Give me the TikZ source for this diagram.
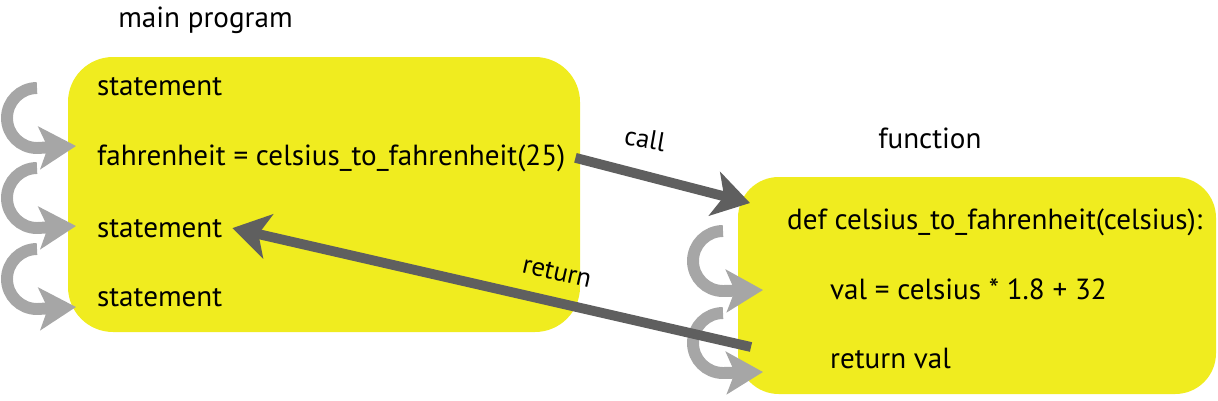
\documentclass[tikz,border=0pt]{standalone}
\usepackage{fontspec}
\setmainfont{PT Sans}
\usetikzlibrary{arrows.meta,positioning}
\definecolor{boxyellow}{RGB}{240,236,31}
\definecolor{calldark}{RGB}{95,95,95}
\definecolor{flowgray}{RGB}{166,166,166}
\tikzset{
  mainbox/.style={fill=boxyellow, rounded corners=32pt},
  funcbox/.style={fill=boxyellow, rounded corners=29pt},
  codeline/.style={anchor=base west, inner xsep=7pt, inner ysep=2pt, font=\fontsize{20.7}{25}\selectfont},
  headline/.style={anchor=base west, inner sep=0pt, font=\fontsize{20.7}{25}\selectfont},
  arrowlabel/.style={inner sep=1pt, font=\fontsize{19}{23}\selectfont},
  callarrow/.style={-{Stealth[length=26pt, width=32pt, inset=7pt]}, line width=7pt, draw=calldark},
  flowarrow/.style={-{Stealth[length=26pt, width=30pt, inset=6pt]}, line width=8.5pt, draw=flowgray}
}
\begin{document}
\begin{tikzpicture}[x=0.025cm, y=-0.025cm]
\useasboundingbox (0,0) rectangle (1218,401);

% boxes
\fill[mainbox] (68,57) rectangle (580,332);
\fill[funcbox] (738,177) rectangle (1216,394);

% headings
\node[headline] (mainhead) at (118,27) {main program};
\node[headline] (funchead) at (878,148) {function};

% main program lines
\node[codeline] (stmtA) at (87,95) {statement};
\node[codeline] (fahr) at (87,165) {fahrenheit = celsius\_to\_fahrenheit(25)};
\node[codeline] (stmtB) at (87,237) {statement};
\node[codeline] (stmtC) at (87,306) {statement};

% function lines
\node[codeline] (defline) at (777,229) {def celsius\_to\_fahrenheit(celsius):};
\node[codeline] (valline) at (820,299) {val = celsius * 1.8 + 32};
\node[codeline] (retline) at (820,368) {return val};

% flow inside the blocks
\foreach \top in {88,168,249}
  \draw[flowarrow] (37,\top) arc[start angle=270, end angle=90, radius=30] -- ++(39,-2);
\foreach \top in {231,313}
  \draw[flowarrow] (723,\top) arc[start angle=270, end angle=90, radius=30] -- ++(40,-1);

% call and return
\coordinate (callend) at (750,203);
\coordinate (retstart) at (751,347);
\draw[callarrow] (fahr.east) -- (callend);
\draw[callarrow] (retstart) -- (stmtB.east);
\node[arrowlabel, rotate=-10] (calllbl) at (645,139) {call};
\node[arrowlabel, rotate=-13] (retlbl) at (557,272) {return};
\end{tikzpicture}
\end{document}
